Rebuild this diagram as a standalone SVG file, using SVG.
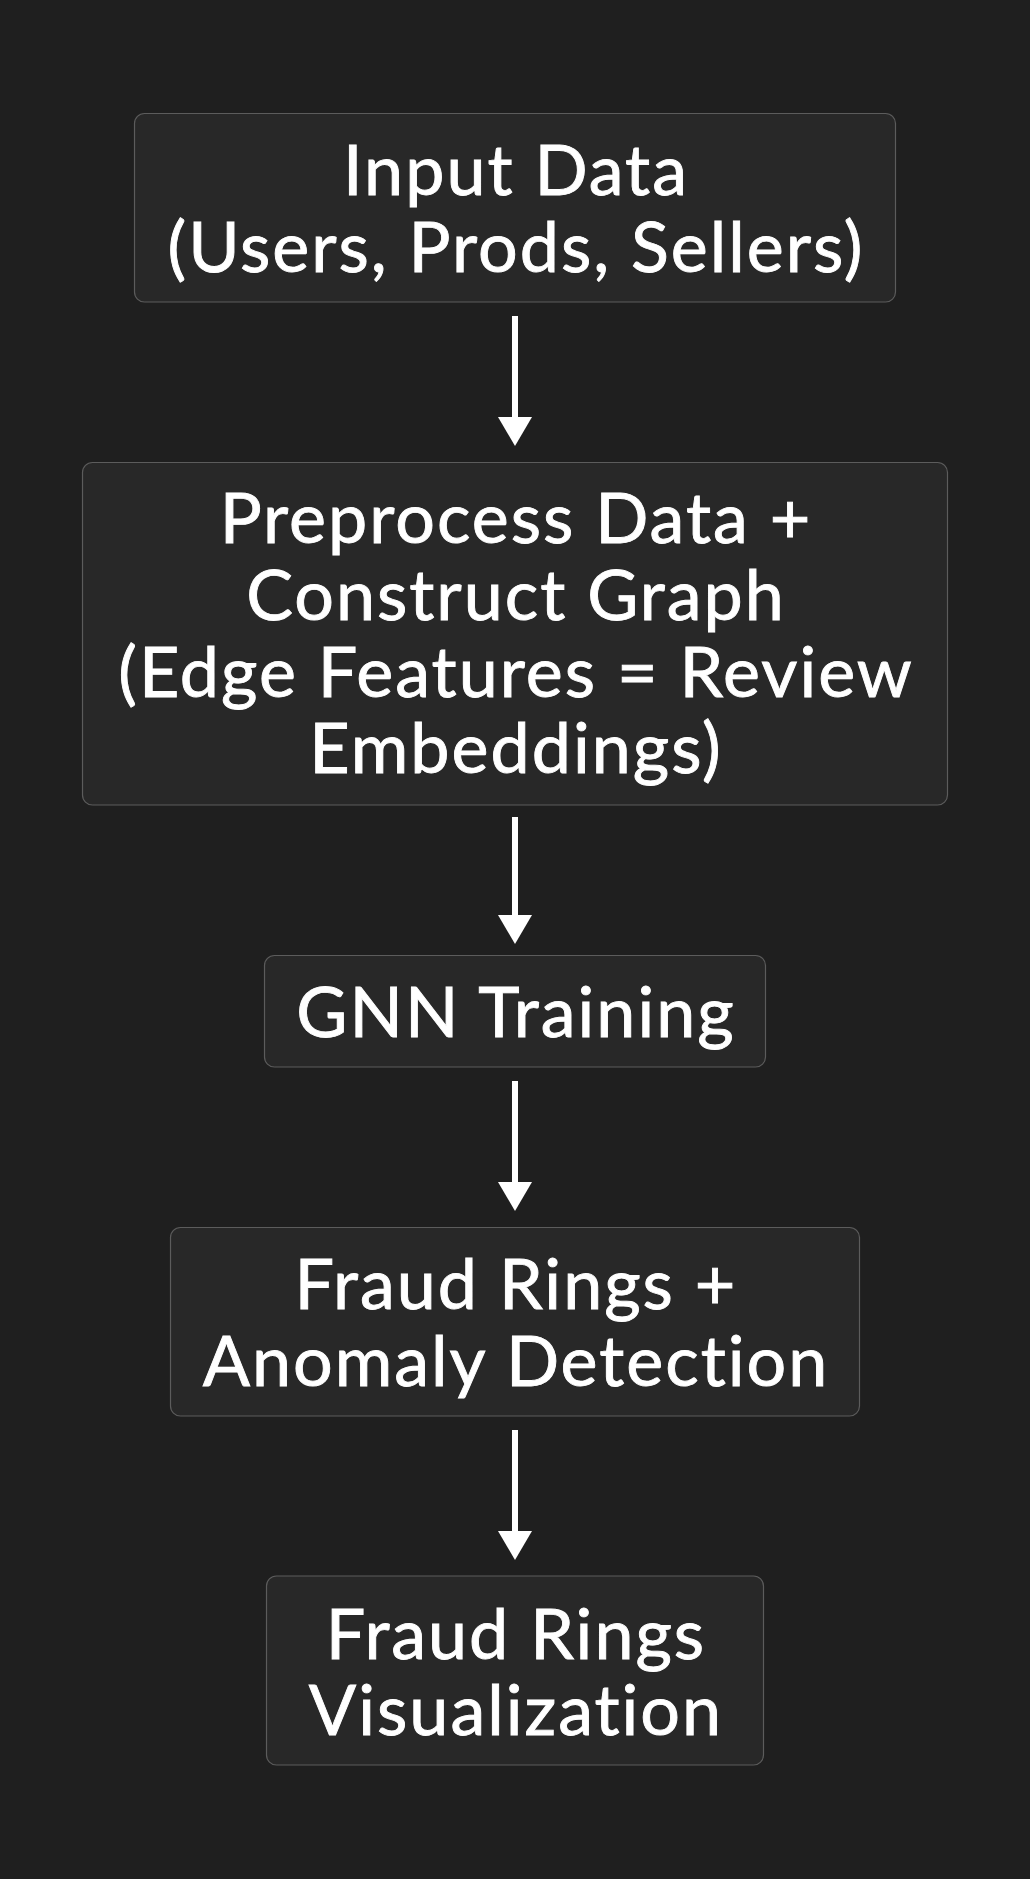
<svg xmlns="http://www.w3.org/2000/svg" width="1030" height="1879" viewBox="0 0 1030 1879">
<style>
.box{fill:#282828;stroke:#5c5c5c;stroke-width:1.2}
.t{font-family:Lato,"Open Sans",sans-serif;font-size:70px;letter-spacing:2px;font-variant-ligatures:none;fill:#ffffff;stroke:#ffffff;stroke-width:0.9;text-anchor:middle}
.edge{stroke:#ffffff;stroke-width:6;fill:none}
</style>
<rect width="1030" height="1879" fill="#1f1f1f"/>
<g id="connectors">
<line class="edge" x1="515" y1="316" x2="515" y2="420"/>
<path d="M498,417 L532,417 L515,446 Z" fill="#fff"/>
<line class="edge" x1="515" y1="817" x2="515" y2="918"/>
<path d="M498,915 L532,915 L515,944 Z" fill="#fff"/>
<line class="edge" x1="515" y1="1081" x2="515" y2="1185"/>
<path d="M498,1182 L532,1182 L515,1211 Z" fill="#fff"/>
<line class="edge" x1="515" y1="1430" x2="515" y2="1534"/>
<path d="M498,1531 L532,1531 L515,1560 Z" fill="#fff"/>
</g>
<g id="n1">
<rect class="box" x="134.5" y="113.5" width="761" height="188.5" rx="10"/>
<text class="t" x="516" y="195">Input Data</text>
<text class="t" x="516" y="272">(Users, Prods, Sellers)</text>
</g>
<g id="n2">
<rect class="box" x="82.5" y="462.5" width="865" height="342.5" rx="10"/>
<text class="t" x="516" y="543">Preprocess Data +</text>
<text class="t" x="516" y="620">Construct Graph</text>
<text class="t" x="516" y="697">(Edge Features = Review</text>
<text class="t" x="516" y="773">Embeddings)</text>
</g>
<g id="n3">
<rect class="box" x="264.5" y="955.5" width="501" height="111.5" rx="10"/>
<text class="t" x="516" y="1037">GNN Training</text>
</g>
<g id="n4">
<rect class="box" x="170.5" y="1227.5" width="689" height="188.5" rx="10"/>
<text class="t" x="516" y="1309">Fraud Rings +</text>
<text class="t" x="516" y="1386">Anomaly Detection</text>
</g>
<g id="n5">
<rect class="box" x="266.5" y="1576" width="497" height="189" rx="10"/>
<text class="t" x="516" y="1659">Fraud Rings</text>
<text class="t" x="516" y="1735">Visualization</text>
</g>
</svg>
